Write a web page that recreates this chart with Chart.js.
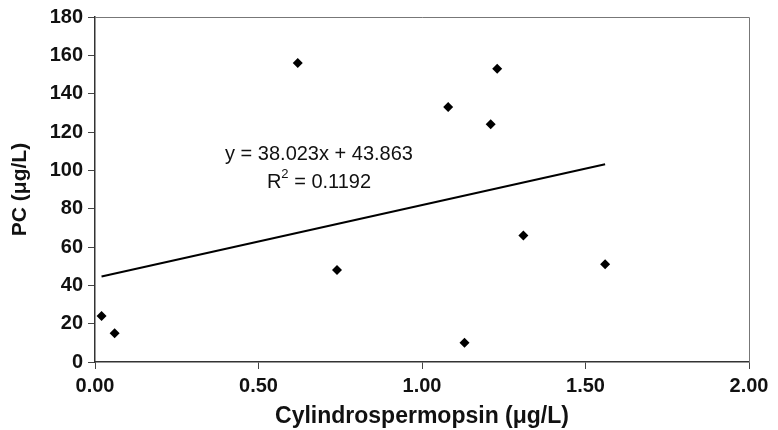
<!DOCTYPE html>
<html>
<head>
<meta charset="utf-8">
<script src="https://cdn.jsdelivr.net/npm/chart.js@4"></script>
<style>
  html, body { margin: 0; padding: 0; background: #fff; }
  #wrap { width: 778px; height: 430px; }
</style>
</head>
<body>
<div id="wrap"><canvas id="pcChart" width="778" height="430"></canvas></div>
<script>
var cylValues = [0.02, 0.06, 0.62, 0.74, 1.08, 1.13, 1.21, 1.23, 1.31, 1.56];
var pcValues = [24, 15, 156, 48, 133, 10, 124, 153, 66, 51];
var slope = 38.023;
var intercept = 43.863;
var eqLines = ["y = 38.023x + 43.863", "R2 = 0.1192"];

var points = cylValues.map(function (x, i) { return { x: x, y: pcValues[i] }; });
var xMin = Math.min.apply(null, cylValues);
var xMax = Math.max.apply(null, cylValues);
var trend = [
    { x: xMin, y: slope * xMin + intercept },
    { x: xMax, y: slope * xMax + intercept }
];

var FONT = "'Liberation Sans', Arial, sans-serif";

var boxAndText = {
    id: "boxAndText",
    afterDraw: function (chart) {
        var ctx = chart.ctx;
        var a = chart.chartArea;
        var xs = chart.scales.x, ys = chart.scales.y;
        ctx.save();
        // top and right frame
        ctx.strokeStyle = "#777";
        ctx.lineWidth = 1;
        ctx.beginPath();
        ctx.moveTo(a.left, a.top + 0.5);
        ctx.lineTo(a.right + 0.5, a.top + 0.5);
        ctx.lineTo(a.right + 0.5, a.bottom);
        ctx.stroke();
        // equation
        var big = "20px " + FONT, small = "13px " + FONT;
        ctx.fillStyle = "#111";
        ctx.font = big;
        ctx.textAlign = "center";
        ctx.textBaseline = "middle";
        var cx = xs.getPixelForValue(0.685);
        ctx.fillText(eqLines[0], cx, ys.getPixelForValue(108.5));
        var y2 = ys.getPixelForValue(93.5);
        var t1 = "R", t2 = " = 0.1192";
        var w1 = ctx.measureText(t1).width;
        var w2 = ctx.measureText(t2).width;
        ctx.font = small;
        var ws = ctx.measureText("2").width;
        var sx = cx - (w1 + ws + w2) / 2;
        ctx.textAlign = "left";
        ctx.font = big;
        ctx.fillText(t1, sx, y2);
        ctx.font = small;
        ctx.fillText("2", sx + w1, y2 - 8);
        ctx.font = big;
        ctx.fillText(t2, sx + w1 + ws, y2);
        ctx.restore();
    }
};

new Chart("pcChart", {
    type: "scatter",
    data: {
        datasets: [{
            data: points,
            pointStyle: "rectRot",
            pointRadius: 5,
            pointHoverRadius: 5,
            backgroundColor: "#000",
            borderColor: "#000",
            borderWidth: 0
        }, {
            type: "line",
            data: trend,
            borderColor: "#000",
            borderWidth: 2,
            pointRadius: 0,
            fill: false
        }]
    },
    options: {
        responsive: false,
        animation: false,
        layout: {
            padding: { top: 16, right: 29, left: 0, bottom: 0 }
        },
        plugins: {
            legend: { display: false },
            tooltip: { enabled: false }
        },
        scales: {
            x: {
                type: "linear",
                min: 0,
                max: 2,
                afterFit: function (scale) { scale.height = 68; },
                ticks: {
                    stepSize: 0.5,
                    color: "#111",
                    font: { family: FONT, size: 20, weight: "bold" },
                    padding: 5,
                    callback: function (v) { return v.toFixed(2); }
                },
                grid: {
                    drawOnChartArea: false,
                    drawTicks: true,
                    tickLength: 7,
                    color: "#444"
                },
                border: { color: "#333", width: 1.5 },
                title: {
                    display: true,
                    text: "Cylindrospermopsin (μg/L)",
                    color: "#111",
                    font: { family: FONT, size: 23, weight: "bold" },
                    padding: { top: 0, bottom: 0 }
                }
            },
            y: {
                min: 0,
                max: 180,
                afterFit: function (scale) { scale.width = 95; },
                ticks: {
                    stepSize: 20,
                    color: "#111",
                    font: { family: FONT, size: 20, weight: "bold" },
                    padding: 5
                },
                grid: {
                    drawOnChartArea: false,
                    drawTicks: true,
                    tickLength: 7,
                    color: "#444"
                },
                border: { color: "#333", width: 1.5 },
                title: {
                    display: true,
                    text: "PC (μg/L)",
                    color: "#111",
                    font: { family: FONT, size: 21, weight: "bold" },
                    padding: { top: 8, bottom: 0 }
                }
            }
        }
    },
    plugins: [boxAndText]
});
</script>
</body>
</html>
